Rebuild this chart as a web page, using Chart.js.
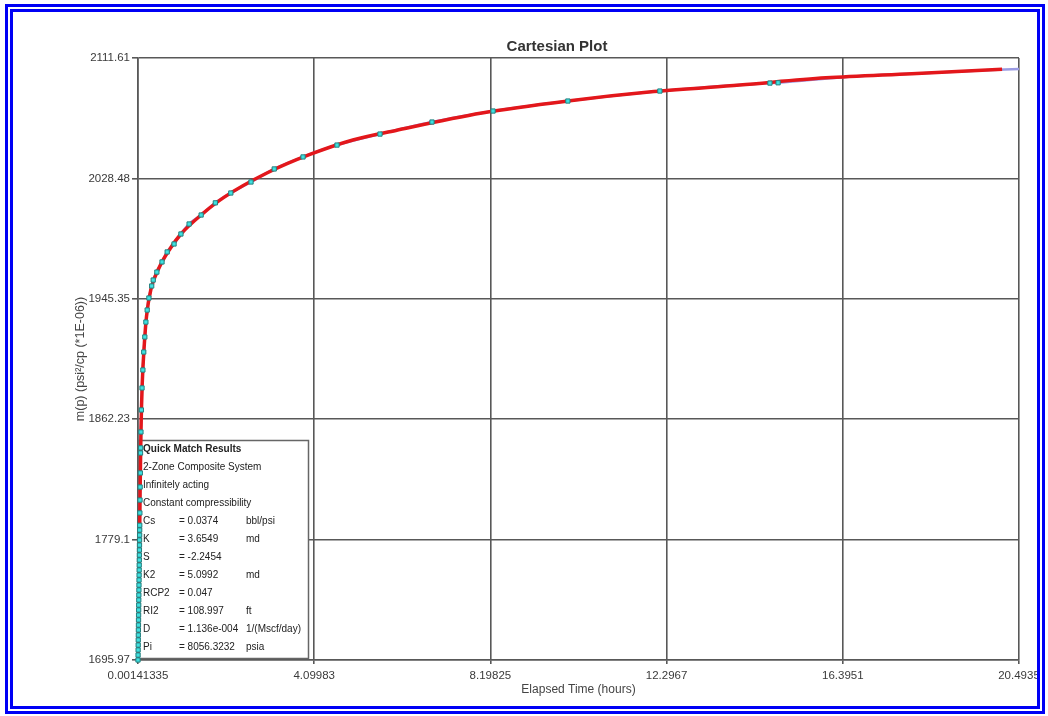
<!DOCTYPE html>
<html>
<head>
<meta charset="utf-8">
<title>Cartesian Plot</title>
<script src="https://cdn.jsdelivr.net/npm/chart.js@4.4.1/dist/chart.umd.min.js"></script>
<style>
  html, body { margin: 0; padding: 0; background: #fff; }
  #wrap { position: relative; width: 1048px; height: 716px; }
  #frame {
    position: absolute; left: 5px; top: 4px; width: 1040px; height: 710px;
    box-sizing: border-box; border: 8px double #0000f5; pointer-events: none;
  }
  canvas { position: absolute; left: 0; top: 0; }
</style>
</head>
<body>
<div id="wrap">
  <canvas id="chart" width="1048" height="716"></canvas>
  <div id="frame"></div>
</div>
<script>
const FONT = "'Liberation Sans', Arial, sans-serif";

// Axis ticks
const xTicks = [0.00141335, 4.09983, 8.19825, 12.2967, 16.3951, 20.4935];
const xTickLabels = ['0.00141335', '4.09983', '8.19825', '12.2967', '16.3951', '20.4935'];
const yTicks = [1695.97, 1779.1, 1862.23, 1945.35, 2028.48, 2111.61];
const yTickLabels = ['1695.97', '1779.1', '1862.23', '1945.35', '2028.48', '2111.61'];

// Measured points (hours, m(p))
const markerTime = [
  0.0014, 0.0030, 0.0045, 0.0060, 0.0075, 0.0090, 0.0105, 0.0120, 0.0135, 0.0150,
  0.0165, 0.0180, 0.0195, 0.0210, 0.0225, 0.0240, 0.0255, 0.0270, 0.0285, 0.0300,
  0.0315, 0.0330, 0.0345, 0.0360, 0.0375, 0.0390, 0.0405, 0.0420,
  0.045, 0.048, 0.051, 0.055, 0.060, 0.064, 0.070, 0.080, 0.095, 0.115, 0.135,
  0.160, 0.185, 0.215, 0.255, 0.320, 0.355, 0.440, 0.560, 0.680, 0.840, 1.000,
  1.190, 1.470, 1.800, 2.160, 2.630, 3.170, 3.840, 4.630, 5.630, 6.840, 8.260,
  10.00, 12.14, 14.70, 14.89
];
const markerValue = [
  1695.97, 1699.4, 1702.9, 1706.3, 1709.8, 1713.2, 1716.7, 1720.1, 1723.6, 1727.0,
  1730.5, 1733.9, 1737.4, 1740.8, 1744.3, 1747.7, 1751.2, 1754.6, 1758.1, 1761.5,
  1765.0, 1768.4, 1771.9, 1775.3, 1778.8, 1782.2, 1785.7, 1789.0,
  1797.5, 1806.4, 1815.4, 1825.1, 1838.9, 1842.4, 1853.4, 1868.6, 1883.8, 1896.2, 1908.6,
  1919.0, 1929.3, 1937.6, 1945.9, 1954.2, 1958.3, 1963.8, 1970.8, 1977.7, 1983.2, 1990.1,
  1997.0, 2003.2, 2011.6, 2018.4, 2026.0, 2035.0, 2043.3, 2051.5, 2059.1, 2067.4, 2075.0,
  2081.9, 2088.8, 2094.3, 2094.5
];
// late measured data without markers
const tailTime = [16.4, 18.5, 20.4935];
const tailValue = [2098.4, 2101.5, 2104.1];

// Quick match model curve
const modelTime = [
  0.0014, 0.01, 0.02, 0.03, 0.04, 0.05, 0.07, 0.10, 0.15, 0.20, 0.30, 0.50, 0.75,
  1.0, 1.5, 2.0, 3.0, 4.0, 5.0, 6.0, 8.0, 10.0, 12.0, 14.0, 16.0, 18.0, 20.1
];
const modelValue = [
  1695.97, 1715.0, 1738.0, 1761.5, 1784.8, 1812.0, 1853.4, 1886.9, 1914.8, 1933.4, 1951.7, 1967.3, 1980.1,
  1990.1, 2004.0, 2015.4, 2032.2, 2045.0, 2055.0, 2061.6, 2073.6, 2081.9, 2088.4, 2093.0, 2097.9, 2100.8, 2103.9
];

// Quick match results text
const matchHeader = ['Quick Match Results', '2-Zone Composite System', 'Infinitely acting', 'Constant compressibility'];
const matchNames = ['Cs', 'K', 'S', 'K2', 'RCP2', 'RI2', 'D', 'Pi'];
const matchValues = ['= 0.0374', '= 3.6549', '= -2.2454', '= 5.0992', '= 0.047', '= 108.997', '= 1.136e-004', '= 8056.3232'];
const matchUnits = ['bbl/psi', 'md', '', 'md', '', 'ft', '1/(Mscf/day)', 'psia'];

const toPoints = (xs, ys) => xs.map((x, i) => ({ x: x, y: ys[i] }));

const markerPoints = toPoints(markerTime, markerValue);
const measuredPoints = toPoints(markerTime.concat(tailTime), markerValue.concat(tailValue));
const modelPoints = toPoints(modelTime, modelValue);

const GRID = '#585858';

// Results box, drawn over the grid but under the curves
const quickMatchBox = {
  id: 'quickMatchBox',
  beforeDatasetsDraw(chart) {
    const { ctx, chartArea } = chart;
    const w = 170, h = 218;
    const left = chartArea.left;
    const top = chartArea.bottom - 2 - h;
    ctx.save();
    ctx.fillStyle = '#fff';
    ctx.fillRect(left, top, w, h);
    ctx.strokeStyle = '#666';
    ctx.lineWidth = 1.5;
    ctx.strokeRect(left + 0.5, top + 0.5, w, h);

    ctx.fillStyle = '#222';
    ctx.textBaseline = 'middle';
    ctx.textAlign = 'left';
    let y = top + 9;
    matchHeader.forEach((line, i) => {
      ctx.font = (i === 0 ? 'bold ' : '') + '10px ' + FONT;
      ctx.fillText(line, left + 5, y);
      y += 18;
    });
    ctx.font = '10px ' + FONT;
    matchNames.forEach((name, i) => {
      ctx.fillText(name, left + 5, y);
      ctx.fillText(matchValues[i], left + 41, y);
      ctx.fillText(matchUnits[i], left + 108, y);
      y += 18;
    });
    ctx.restore();
  }
};

const plotTitle = {
  id: 'plotTitle',
  afterDraw(chart) {
    const ctx = chart.ctx;
    ctx.save();
    ctx.font = 'bold 15px ' + FONT;
    ctx.fillStyle = '#333';
    ctx.textAlign = 'center';
    ctx.textBaseline = 'middle';
    ctx.fillText('Cartesian Plot', 557, 47);
    ctx.restore();
  }
};

new Chart(document.getElementById('chart'), {
  type: 'scatter',
  data: {
    datasets: [
      {
        label: 'Data',
        data: markerPoints,
        showLine: false,
        pointStyle: 'rect',
        pointRadius: 3,
        pointBackgroundColor: '#3ee0e0',
        pointBorderColor: '#23807f',
        pointBorderWidth: 1,
        clip: 6
      },
      {
        label: 'Model',
        data: modelPoints,
        showLine: true,
        borderColor: '#e3171b',
        borderWidth: 3.5,
        pointRadius: 0,
        cubicInterpolationMode: 'monotone',
        clip: 3
      },
      {
        label: 'Measured',
        data: measuredPoints,
        showLine: true,
        borderColor: '#9a9ae2',
        borderWidth: 2.5,
        pointRadius: 0,
        cubicInterpolationMode: 'monotone',
        clip: 3
      }
    ]
  },
  options: {
    responsive: false,
    animation: false,
    devicePixelRatio: 1,
    layout: { padding: { left: 0, right: 29, top: 58, bottom: 0 } },
    plugins: {
      legend: { display: false },
      tooltip: { enabled: false }
    },
    scales: {
      x: {
        type: 'linear',
        position: 'bottom',
        min: xTicks[0],
        max: xTicks[xTicks.length - 1],
        afterBuildTicks: (scale) => { scale.ticks = xTicks.map(v => ({ value: v })); },
        afterFit: (scale) => { scale.height = 56; },
        ticks: {
          autoSkip: false,
          maxRotation: 0,
          padding: 5,
          color: '#3a3a3a',
          font: { family: FONT, size: 11.5 },
          callback: (value, index) => xTickLabels[index]
        },
        grid: { color: GRID, lineWidth: 1.6, tickLength: 4 },
        border: { color: GRID, width: 1.6 },
        title: {
          display: true,
          text: 'Elapsed Time (hours)',
          color: '#444',
          font: { family: FONT, size: 12 },
          padding: { top: 0, bottom: 18.8 }
        }
      },
      y: {
        type: 'linear',
        position: 'left',
        min: yTicks[0],
        max: yTicks[yTicks.length - 1],
        afterBuildTicks: (scale) => { scale.ticks = yTicks.map(v => ({ value: v })); },
        afterFit: (scale) => { scale.width = 138; },
        ticks: {
          autoSkip: false,
          padding: 2,
          color: '#3a3a3a',
          font: { family: FONT, size: 11.5 },
          callback: (value, index) => yTickLabels[index]
        },
        grid: { color: GRID, lineWidth: 1.6, tickLength: 6 },
        border: { color: GRID, width: 1.6 },
        title: {
          display: true,
          text: 'm(p) (psi\u00b2/cp (*1E-06))',
          color: '#444',
          font: { family: FONT, size: 12.5 },
          padding: { top: 73, bottom: 0 }
        }
      }
    }
  },
  plugins: [quickMatchBox, plotTitle]
});
</script>
</body>
</html>
